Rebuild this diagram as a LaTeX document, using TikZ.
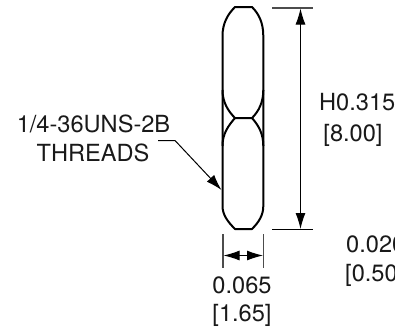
\documentclass[tikz,border=0pt]{standalone}
\usepackage{fontspec}
\setmainfont{TeX Gyre Heros}
\usetikzlibrary{arrows.meta}
\tikzset{
  lbl/.style={anchor=base,inner sep=0pt,font=\fontsize{23.6bp}{25bp}\selectfont,text=black!90},
  body/.style={line width=2bp,draw=black,line join=round},
  dimline/.style={line width=1bp,draw=black},
  extline/.style={line width=1.1bp,draw=black!70},
  tip/.style={-{Latex[length=16bp,width=10bp]}}
}
\begin{document}
\begin{tikzpicture}[x=1bp,y=-1bp]
\useasboundingbox (0,0) rectangle (395,329);
\clip (0,0) rectangle (395,329);
% threaded bore outline
\draw[body] (235,7) -- (252,7) .. controls (259,14) and (263.3,23) .. (263.3,36)
  -- (263.3,206) .. controls (263.3,215) and (259,222) .. (252,229) -- (235,229)
  .. controls (228,222) and (222.5,215) .. (222.5,206) -- (222.5,36)
  .. controls (222.5,23) and (228,14) .. (235,7) -- cycle;
\draw[body] (222.5,90) .. controls (222.5,102) and (228,111) .. (235,118) -- (252,118)
  .. controls (259,111) and (263.3,102) .. (263.3,90);
\draw[body] (222.5,146) .. controls (222.5,134) and (228,126) .. (235,118);
\draw[body] (263.3,146) .. controls (263.3,134) and (259,126) .. (252,118);
% height dimension
\coordinate (ta) at (272,8); \coordinate (tb) at (313,8);
\coordinate (ba) at (272,229.3); \coordinate (bb) at (313,229.3);
\coordinate (tm) at (300.5,8.5); \coordinate (bm) at (300.5,229);
\draw[extline] (ta) -- (tb);
\draw[dimline] (ba) -- (bb);
\draw[dimline,tip] (300.5,100) -- (tm);
\draw[dimline,tip] (300.5,100) -- (bm);
% width dimension
\coordinate (la) at (223,234); \coordinate (lb) at (223,268);
\coordinate (ra) at (263.5,234); \coordinate (rb) at (263.5,268);
\coordinate (lm) at (223.5,255.5); \coordinate (rm) at (263,255.5);
\coordinate (cm) at (243.3,255.5);
\draw[extline] (la) -- (lb);
\draw[extline] (ra) -- (rb);
\draw[dimline,tip] (cm) -- (lm);
\draw[dimline,tip] (cm) -- (rm);
% leader
\coordinate (le) at (158,140.5); \coordinate (lk) at (175,140.5); \coordinate (lt) at (221.5,190);
\draw[dimline,tip] (le) -- (lk) -- (lt);
% labels
\node[lbl] (t1) at (93.5,132) {1/4-36UNS-2B};
\node[lbl] (t2) at (93,161) {THREADS};
\node[lbl,anchor=base west] (h1) at (319,110) {H0.315};
\node[lbl] (h2) at (353,141) {[8.00]};
\node[lbl] (w1) at (242,293) {0.065};
\node[lbl] (w2) at (242,321) {[1.65]};
\node[lbl,anchor=base west] (c1) at (346,252.5) {0.020};
\node[lbl,anchor=base west] (c2) at (345,281) {[0.50]};
\end{tikzpicture}
\end{document}
